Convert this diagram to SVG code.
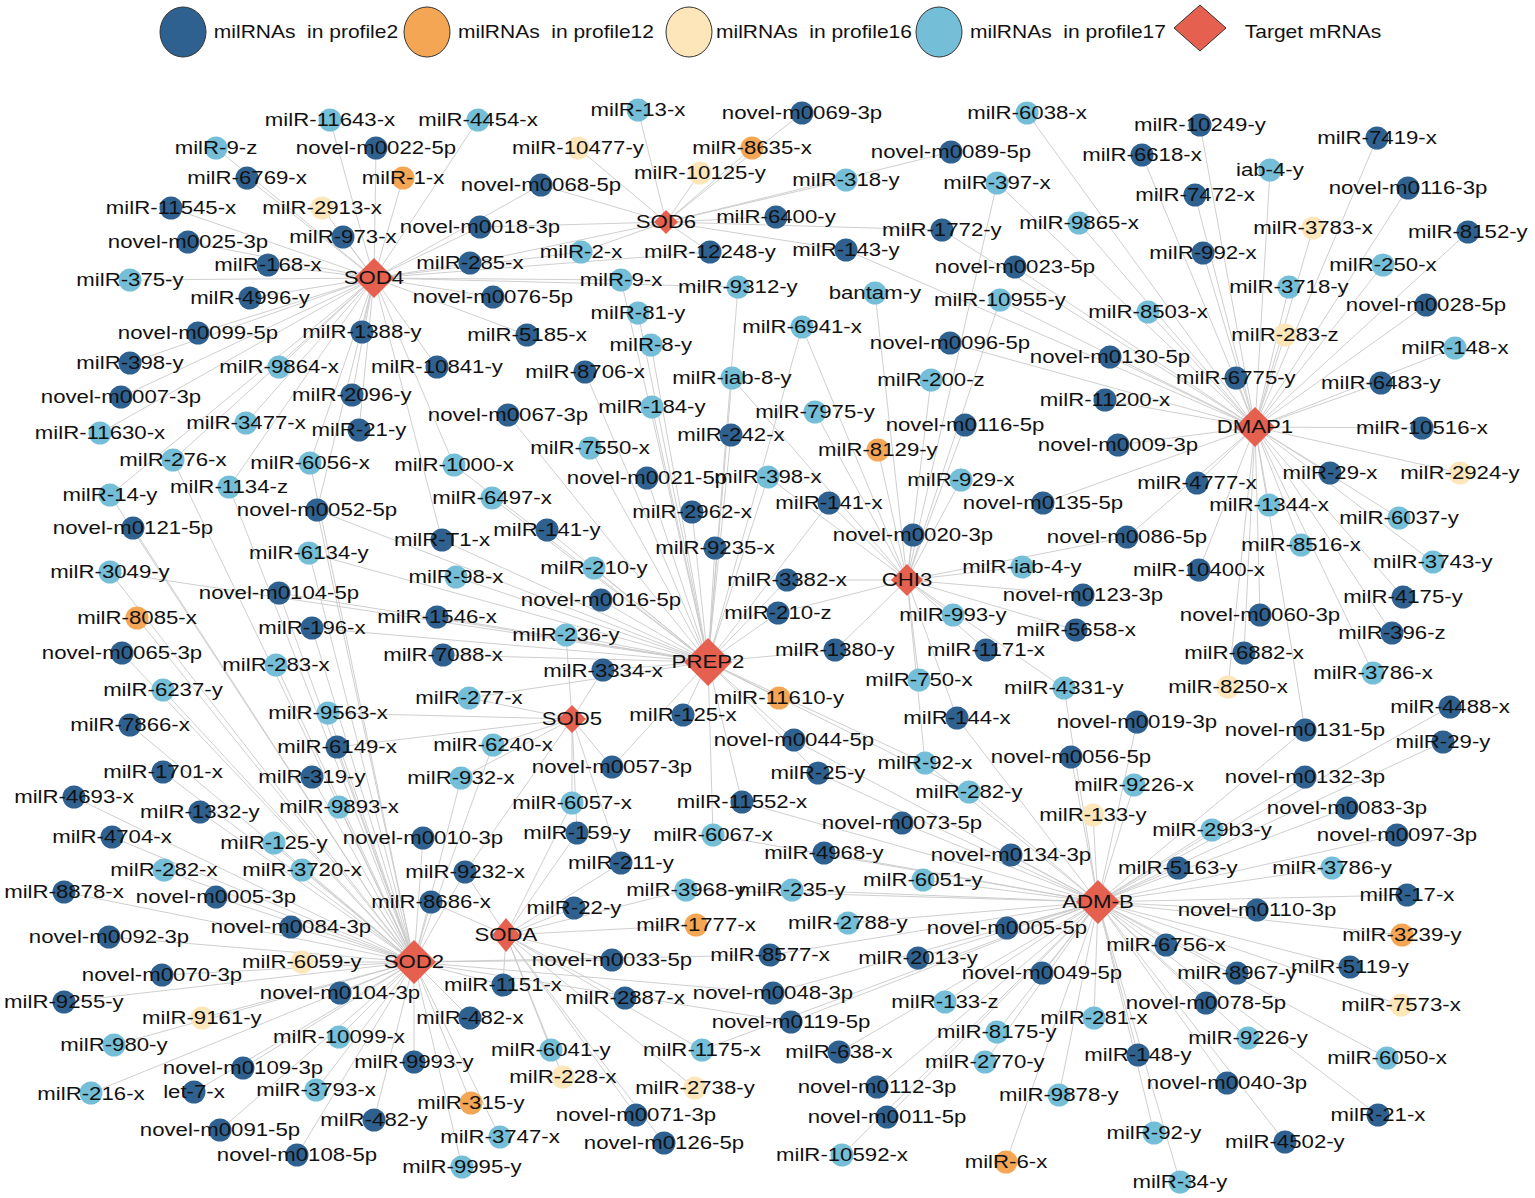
<svg xmlns="http://www.w3.org/2000/svg" width="1535" height="1198" viewBox="0 0 1535 1198">
<style>
text{font-family:"Liberation Sans",Arial,sans-serif;font-size:18.5px;fill:#111;text-anchor:middle;transform-box:fill-box;transform-origin:center;transform:scaleX(1.2)}
.lg{white-space:pre;font-size:17.5px}
.d{fill:#2f6190}.o{fill:#f5a654}.y{fill:#fde6b9}.l{fill:#75bed8}.t{fill:#e5604f}
.lgs{stroke:#333;stroke-width:1}
#edges line{stroke:#c9c9c9;stroke-width:0.9}
</style>
<rect width="1535" height="1198" fill="#fff"/>
<g id="legend">
<ellipse class="d lgs" cx="183" cy="32" rx="23" ry="25"/><text class="lg" x="306" y="38">milRNAs  in profile2</text>
<ellipse class="o lgs" cx="427" cy="32" rx="23" ry="25"/><text class="lg" x="556" y="38">milRNAs  in profile12</text>
<ellipse class="y lgs" cx="689" cy="32" rx="23" ry="25"/><text class="lg" x="814" y="38">milRNAs  in profile16</text>
<ellipse class="l lgs" cx="939" cy="32" rx="23" ry="25"/><text class="lg" x="1068" y="38">milRNAs  in profile17</text>
<polygon class="t lgs" points="1200,5 1226,28 1200,51 1174,28"/><text class="lg" x="1313" y="38">Target mRNAs</text>
</g>
<g id="edges">
<line x1="330" y1="120" x2="374" y2="278"/><line x1="478" y1="120" x2="374" y2="278"/><line x1="216" y1="148" x2="374" y2="278"/><line x1="376" y1="148" x2="374" y2="278"/><line x1="247" y1="178" x2="374" y2="278"/><line x1="403" y1="178" x2="374" y2="278"/><line x1="171" y1="208" x2="374" y2="278"/><line x1="322" y1="208" x2="374" y2="278"/><line x1="188" y1="242" x2="374" y2="278"/><line x1="343" y1="237" x2="374" y2="278"/><line x1="130" y1="280" x2="374" y2="278"/><line x1="268" y1="265" x2="374" y2="278"/><line x1="470" y1="263" x2="374" y2="278"/><line x1="250" y1="298" x2="374" y2="278"/><line x1="198" y1="333" x2="374" y2="278"/><line x1="362" y1="332" x2="374" y2="278"/><line x1="130" y1="363" x2="374" y2="278"/><line x1="279" y1="367" x2="374" y2="278"/><line x1="437" y1="367" x2="374" y2="278"/><line x1="121" y1="397" x2="374" y2="278"/><line x1="352" y1="395" x2="374" y2="278"/><line x1="100" y1="433" x2="374" y2="278"/><line x1="246" y1="423" x2="374" y2="278"/><line x1="359" y1="430" x2="374" y2="278"/><line x1="480" y1="227" x2="374" y2="278"/><line x1="493" y1="297" x2="374" y2="278"/><line x1="527" y1="335" x2="374" y2="278"/><line x1="173" y1="460" x2="374" y2="278"/><line x1="110" y1="495" x2="374" y2="278"/><line x1="581" y1="252" x2="374" y2="278"/><line x1="621" y1="280" x2="374" y2="278"/><line x1="710" y1="252" x2="374" y2="278"/><line x1="738" y1="287" x2="374" y2="278"/><line x1="310" y1="463" x2="374" y2="278"/><line x1="229" y1="487" x2="374" y2="278"/><line x1="317" y1="510" x2="374" y2="278"/><line x1="454" y1="465" x2="374" y2="278"/><line x1="442" y1="540" x2="374" y2="278"/><line x1="541" y1="185" x2="374" y2="278"/>
<line x1="638" y1="110" x2="666" y2="222"/><line x1="802" y1="113" x2="666" y2="222"/><line x1="578" y1="148" x2="666" y2="222"/><line x1="752" y1="148" x2="666" y2="222"/><line x1="541" y1="185" x2="666" y2="222"/><line x1="700" y1="173" x2="666" y2="222"/><line x1="846" y1="180" x2="666" y2="222"/><line x1="776" y1="217" x2="666" y2="222"/><line x1="951" y1="152" x2="666" y2="222"/><line x1="581" y1="252" x2="666" y2="222"/><line x1="710" y1="252" x2="666" y2="222"/><line x1="846" y1="250" x2="666" y2="222"/><line x1="942" y1="230" x2="666" y2="222"/><line x1="480" y1="227" x2="666" y2="222"/><line x1="470" y1="263" x2="666" y2="222"/>
<line x1="1027" y1="113" x2="1255" y2="427"/><line x1="1200" y1="125" x2="1255" y2="427"/><line x1="1377" y1="138" x2="1255" y2="427"/><line x1="1142" y1="155" x2="1255" y2="427"/><line x1="1270" y1="170" x2="1255" y2="427"/><line x1="1195" y1="195" x2="1255" y2="427"/><line x1="1408" y1="188" x2="1255" y2="427"/><line x1="1079" y1="223" x2="1255" y2="427"/><line x1="1313" y1="228" x2="1255" y2="427"/><line x1="1468" y1="232" x2="1255" y2="427"/><line x1="1015" y1="267" x2="1255" y2="427"/><line x1="1203" y1="253" x2="1255" y2="427"/><line x1="1383" y1="265" x2="1255" y2="427"/><line x1="1000" y1="300" x2="1255" y2="427"/><line x1="1289" y1="287" x2="1255" y2="427"/><line x1="1148" y1="312" x2="1255" y2="427"/><line x1="1426" y1="305" x2="1255" y2="427"/><line x1="950" y1="343" x2="1255" y2="427"/><line x1="1110" y1="357" x2="1255" y2="427"/><line x1="1285" y1="335" x2="1255" y2="427"/><line x1="1455" y1="348" x2="1255" y2="427"/><line x1="1236" y1="378" x2="1255" y2="427"/><line x1="1381" y1="383" x2="1255" y2="427"/><line x1="1105" y1="400" x2="1255" y2="427"/><line x1="1422" y1="428" x2="1255" y2="427"/><line x1="1118" y1="445" x2="1255" y2="427"/><line x1="1197" y1="483" x2="1255" y2="427"/><line x1="1330" y1="473" x2="1255" y2="427"/><line x1="1460" y1="473" x2="1255" y2="427"/><line x1="1043" y1="503" x2="1255" y2="427"/><line x1="1269" y1="505" x2="1255" y2="427"/><line x1="1399" y1="518" x2="1255" y2="427"/><line x1="1127" y1="537" x2="1255" y2="427"/><line x1="1301" y1="545" x2="1255" y2="427"/><line x1="1433" y1="562" x2="1255" y2="427"/><line x1="1199" y1="570" x2="1255" y2="427"/><line x1="1403" y1="597" x2="1255" y2="427"/><line x1="1260" y1="615" x2="1255" y2="427"/><line x1="1392" y1="633" x2="1255" y2="427"/><line x1="1244" y1="653" x2="1255" y2="427"/><line x1="1228" y1="687" x2="1255" y2="427"/><line x1="1373" y1="673" x2="1255" y2="427"/><line x1="1305" y1="730" x2="1255" y2="427"/><line x1="997" y1="183" x2="1255" y2="427"/><line x1="942" y1="230" x2="1255" y2="427"/><line x1="846" y1="250" x2="1255" y2="427"/>
<line x1="878" y1="450" x2="907" y2="580"/><line x1="961" y1="480" x2="907" y2="580"/><line x1="829" y1="503" x2="907" y2="580"/><line x1="913" y1="535" x2="907" y2="580"/><line x1="787" y1="580" x2="907" y2="580"/><line x1="1022" y1="567" x2="907" y2="580"/><line x1="778" y1="613" x2="907" y2="580"/><line x1="953" y1="615" x2="907" y2="580"/><line x1="1083" y1="595" x2="907" y2="580"/><line x1="1076" y1="630" x2="907" y2="580"/><line x1="835" y1="650" x2="907" y2="580"/><line x1="986" y1="650" x2="907" y2="580"/><line x1="919" y1="680" x2="907" y2="580"/><line x1="1064" y1="688" x2="907" y2="580"/><line x1="957" y1="718" x2="907" y2="580"/><line x1="931" y1="380" x2="907" y2="580"/><line x1="965" y1="425" x2="907" y2="580"/><line x1="875" y1="293" x2="907" y2="580"/><line x1="815" y1="412" x2="907" y2="580"/><line x1="768" y1="477" x2="907" y2="580"/><line x1="802" y1="327" x2="907" y2="580"/><line x1="997" y1="183" x2="907" y2="580"/><line x1="1000" y1="300" x2="907" y2="580"/><line x1="732" y1="378" x2="907" y2="580"/><line x1="925" y1="763" x2="907" y2="580"/><line x1="1127" y1="537" x2="907" y2="580"/>
<line x1="638" y1="313" x2="708" y2="662"/><line x1="651" y1="345" x2="708" y2="662"/><line x1="585" y1="372" x2="708" y2="662"/><line x1="732" y1="378" x2="708" y2="662"/><line x1="652" y1="407" x2="708" y2="662"/><line x1="731" y1="435" x2="708" y2="662"/><line x1="590" y1="448" x2="708" y2="662"/><line x1="647" y1="478" x2="708" y2="662"/><line x1="692" y1="512" x2="708" y2="662"/><line x1="715" y1="548" x2="708" y2="662"/><line x1="594" y1="568" x2="708" y2="662"/><line x1="601" y1="600" x2="708" y2="662"/><line x1="566" y1="635" x2="708" y2="662"/><line x1="603" y1="670" x2="708" y2="662"/><line x1="547" y1="530" x2="708" y2="662"/><line x1="492" y1="498" x2="708" y2="662"/><line x1="454" y1="465" x2="708" y2="662"/><line x1="442" y1="540" x2="708" y2="662"/><line x1="456" y1="577" x2="708" y2="662"/><line x1="437" y1="617" x2="708" y2="662"/><line x1="443" y1="655" x2="708" y2="662"/><line x1="469" y1="698" x2="708" y2="662"/><line x1="779" y1="698" x2="708" y2="662"/><line x1="683" y1="715" x2="708" y2="662"/><line x1="794" y1="740" x2="708" y2="662"/><line x1="818" y1="773" x2="708" y2="662"/><line x1="742" y1="802" x2="708" y2="662"/><line x1="713" y1="835" x2="708" y2="662"/><line x1="612" y1="767" x2="708" y2="662"/><line x1="925" y1="763" x2="708" y2="662"/><line x1="969" y1="792" x2="708" y2="662"/><line x1="835" y1="650" x2="708" y2="662"/><line x1="787" y1="580" x2="708" y2="662"/><line x1="778" y1="613" x2="708" y2="662"/><line x1="508" y1="415" x2="708" y2="662"/><line x1="317" y1="510" x2="708" y2="662"/><line x1="309" y1="553" x2="708" y2="662"/><line x1="110" y1="572" x2="708" y2="662"/><line x1="279" y1="593" x2="708" y2="662"/><line x1="312" y1="628" x2="708" y2="662"/><line x1="738" y1="287" x2="708" y2="662"/><line x1="802" y1="327" x2="708" y2="662"/><line x1="768" y1="477" x2="708" y2="662"/><line x1="829" y1="503" x2="708" y2="662"/><line x1="621" y1="280" x2="708" y2="662"/>
<line x1="493" y1="745" x2="572" y2="719"/><line x1="461" y1="778" x2="572" y2="719"/><line x1="572" y1="803" x2="572" y2="719"/><line x1="577" y1="833" x2="572" y2="719"/><line x1="603" y1="670" x2="572" y2="719"/><line x1="612" y1="767" x2="572" y2="719"/><line x1="469" y1="698" x2="572" y2="719"/><line x1="328" y1="713" x2="572" y2="719"/><line x1="337" y1="747" x2="572" y2="719"/><line x1="621" y1="863" x2="572" y2="719"/><line x1="566" y1="635" x2="572" y2="719"/><line x1="465" y1="872" x2="572" y2="719"/>
<line x1="133" y1="528" x2="414" y2="962"/><line x1="110" y1="572" x2="414" y2="962"/><line x1="137" y1="618" x2="414" y2="962"/><line x1="122" y1="653" x2="414" y2="962"/><line x1="276" y1="665" x2="414" y2="962"/><line x1="163" y1="690" x2="414" y2="962"/><line x1="328" y1="713" x2="414" y2="962"/><line x1="130" y1="725" x2="414" y2="962"/><line x1="337" y1="747" x2="414" y2="962"/><line x1="163" y1="772" x2="414" y2="962"/><line x1="312" y1="777" x2="414" y2="962"/><line x1="74" y1="797" x2="414" y2="962"/><line x1="200" y1="812" x2="414" y2="962"/><line x1="339" y1="807" x2="414" y2="962"/><line x1="112" y1="837" x2="414" y2="962"/><line x1="274" y1="843" x2="414" y2="962"/><line x1="423" y1="838" x2="414" y2="962"/><line x1="164" y1="870" x2="414" y2="962"/><line x1="302" y1="870" x2="414" y2="962"/><line x1="465" y1="872" x2="414" y2="962"/><line x1="64" y1="892" x2="414" y2="962"/><line x1="216" y1="897" x2="414" y2="962"/><line x1="431" y1="902" x2="414" y2="962"/><line x1="291" y1="927" x2="414" y2="962"/><line x1="109" y1="937" x2="414" y2="962"/><line x1="302" y1="962" x2="414" y2="962"/><line x1="162" y1="975" x2="414" y2="962"/><line x1="64" y1="1002" x2="414" y2="962"/><line x1="340" y1="993" x2="414" y2="962"/><line x1="503" y1="985" x2="414" y2="962"/><line x1="202" y1="1018" x2="414" y2="962"/><line x1="470" y1="1018" x2="414" y2="962"/><line x1="114" y1="1045" x2="414" y2="962"/><line x1="339" y1="1037" x2="414" y2="962"/><line x1="243" y1="1068" x2="414" y2="962"/><line x1="414" y1="1062" x2="414" y2="962"/><line x1="91" y1="1093" x2="414" y2="962"/><line x1="194" y1="1092" x2="414" y2="962"/><line x1="316" y1="1090" x2="414" y2="962"/><line x1="471" y1="1103" x2="414" y2="962"/><line x1="374" y1="1120" x2="414" y2="962"/><line x1="220" y1="1130" x2="414" y2="962"/><line x1="500" y1="1137" x2="414" y2="962"/><line x1="297" y1="1155" x2="414" y2="962"/><line x1="462" y1="1167" x2="414" y2="962"/><line x1="279" y1="593" x2="414" y2="962"/><line x1="312" y1="628" x2="414" y2="962"/><line x1="110" y1="495" x2="414" y2="962"/><line x1="173" y1="460" x2="414" y2="962"/><line x1="229" y1="487" x2="414" y2="962"/><line x1="310" y1="463" x2="414" y2="962"/><line x1="317" y1="510" x2="414" y2="962"/><line x1="309" y1="553" x2="414" y2="962"/><line x1="612" y1="960" x2="414" y2="962"/><line x1="770" y1="955" x2="414" y2="962"/><line x1="773" y1="993" x2="414" y2="962"/><line x1="791" y1="1022" x2="414" y2="962"/><line x1="461" y1="778" x2="414" y2="962"/><line x1="493" y1="745" x2="414" y2="962"/>
<line x1="577" y1="833" x2="506" y2="935"/><line x1="621" y1="863" x2="506" y2="935"/><line x1="686" y1="890" x2="506" y2="935"/><line x1="574" y1="908" x2="506" y2="935"/><line x1="696" y1="925" x2="506" y2="935"/><line x1="612" y1="960" x2="506" y2="935"/><line x1="503" y1="985" x2="506" y2="935"/><line x1="625" y1="998" x2="506" y2="935"/><line x1="551" y1="1050" x2="506" y2="935"/><line x1="702" y1="1050" x2="506" y2="935"/><line x1="563" y1="1077" x2="506" y2="935"/><line x1="695" y1="1088" x2="506" y2="935"/><line x1="636" y1="1115" x2="506" y2="935"/><line x1="664" y1="1143" x2="506" y2="935"/><line x1="431" y1="902" x2="506" y2="935"/><line x1="465" y1="872" x2="506" y2="935"/><line x1="572" y1="803" x2="506" y2="935"/>
<line x1="1137" y1="722" x2="1098" y2="902"/><line x1="1071" y1="757" x2="1098" y2="902"/><line x1="1134" y1="785" x2="1098" y2="902"/><line x1="1305" y1="777" x2="1098" y2="902"/><line x1="969" y1="792" x2="1098" y2="902"/><line x1="1093" y1="815" x2="1098" y2="902"/><line x1="1347" y1="808" x2="1098" y2="902"/><line x1="902" y1="823" x2="1098" y2="902"/><line x1="1212" y1="830" x2="1098" y2="902"/><line x1="1397" y1="835" x2="1098" y2="902"/><line x1="824" y1="853" x2="1098" y2="902"/><line x1="1011" y1="855" x2="1098" y2="902"/><line x1="1178" y1="868" x2="1098" y2="902"/><line x1="1332" y1="868" x2="1098" y2="902"/><line x1="792" y1="890" x2="1098" y2="902"/><line x1="923" y1="880" x2="1098" y2="902"/><line x1="1407" y1="895" x2="1098" y2="902"/><line x1="848" y1="923" x2="1098" y2="902"/><line x1="1007" y1="928" x2="1098" y2="902"/><line x1="1257" y1="910" x2="1098" y2="902"/><line x1="1402" y1="935" x2="1098" y2="902"/><line x1="770" y1="955" x2="1098" y2="902"/><line x1="918" y1="958" x2="1098" y2="902"/><line x1="1166" y1="945" x2="1098" y2="902"/><line x1="1042" y1="973" x2="1098" y2="902"/><line x1="1237" y1="973" x2="1098" y2="902"/><line x1="1350" y1="967" x2="1098" y2="902"/><line x1="773" y1="993" x2="1098" y2="902"/><line x1="945" y1="1002" x2="1098" y2="902"/><line x1="1206" y1="1003" x2="1098" y2="902"/><line x1="1401" y1="1005" x2="1098" y2="902"/><line x1="791" y1="1022" x2="1098" y2="902"/><line x1="997" y1="1032" x2="1098" y2="902"/><line x1="1094" y1="1018" x2="1098" y2="902"/><line x1="1248" y1="1038" x2="1098" y2="902"/><line x1="839" y1="1052" x2="1098" y2="902"/><line x1="985" y1="1062" x2="1098" y2="902"/><line x1="1138" y1="1055" x2="1098" y2="902"/><line x1="1387" y1="1058" x2="1098" y2="902"/><line x1="877" y1="1087" x2="1098" y2="902"/><line x1="1227" y1="1083" x2="1098" y2="902"/><line x1="1059" y1="1095" x2="1098" y2="902"/><line x1="887" y1="1117" x2="1098" y2="902"/><line x1="1378" y1="1115" x2="1098" y2="902"/><line x1="1154" y1="1133" x2="1098" y2="902"/><line x1="1285" y1="1142" x2="1098" y2="902"/><line x1="842" y1="1155" x2="1098" y2="902"/><line x1="1006" y1="1162" x2="1098" y2="902"/><line x1="1180" y1="1182" x2="1098" y2="902"/><line x1="1450" y1="707" x2="1098" y2="902"/><line x1="1443" y1="742" x2="1098" y2="902"/><line x1="1305" y1="730" x2="1098" y2="902"/><line x1="1064" y1="688" x2="1098" y2="902"/><line x1="957" y1="718" x2="1098" y2="902"/><line x1="818" y1="773" x2="1098" y2="902"/><line x1="742" y1="802" x2="1098" y2="902"/><line x1="794" y1="740" x2="1098" y2="902"/><line x1="686" y1="890" x2="1098" y2="902"/><line x1="702" y1="1050" x2="1098" y2="902"/><line x1="925" y1="763" x2="1098" y2="902"/><line x1="713" y1="835" x2="1098" y2="902"/>
</g>
<g id="mirnas">
<g id="n_milR-11643-x"><circle class="l" cx="330" cy="120" r="11.5"/><text x="330" y="126.5">milR-11643-x</text></g>
<g id="n_milR-4454-x"><circle class="l" cx="478" cy="120" r="11.5"/><text x="478" y="126.5">milR-4454-x</text></g>
<g id="n_milR-13-x"><circle class="l" cx="638" cy="110" r="11.5"/><text x="638" y="116.5">milR-13-x</text></g>
<g id="n_novel-m0069-3p"><circle class="d" cx="802" cy="113" r="11.5"/><text x="802" y="119.5">novel-m0069-3p</text></g>
<g id="n_milR-6038-x"><circle class="l" cx="1027" cy="113" r="11.5"/><text x="1027" y="119.5">milR-6038-x</text></g>
<g id="n_milR-10249-y"><circle class="d" cx="1200" cy="125" r="11.5"/><text x="1200" y="131.5">milR-10249-y</text></g>
<g id="n_milR-7419-x"><circle class="d" cx="1377" cy="138" r="11.5"/><text x="1377" y="144.5">milR-7419-x</text></g>
<g id="n_milR-9-z"><circle class="l" cx="216" cy="148" r="11.5"/><text x="216" y="154.5">milR-9-z</text></g>
<g id="n_novel-m0022-5p"><circle class="d" cx="376" cy="148" r="11.5"/><text x="376" y="154.5">novel-m0022-5p</text></g>
<g id="n_milR-10477-y"><circle class="y" cx="578" cy="148" r="11.5"/><text x="578" y="154.5">milR-10477-y</text></g>
<g id="n_milR-8635-x"><circle class="o" cx="752" cy="148" r="11.5"/><text x="752" y="154.5">milR-8635-x</text></g>
<g id="n_novel-m0089-5p"><circle class="d" cx="951" cy="152" r="11.5"/><text x="951" y="158.5">novel-m0089-5p</text></g>
<g id="n_milR-6618-x"><circle class="d" cx="1142" cy="155" r="11.5"/><text x="1142" y="161.5">milR-6618-x</text></g>
<g id="n_milR-6769-x"><circle class="d" cx="247" cy="178" r="11.5"/><text x="247" y="184.5">milR-6769-x</text></g>
<g id="n_milR-1-x"><circle class="o" cx="403" cy="178" r="11.5"/><text x="403" y="184.5">milR-1-x</text></g>
<g id="n_novel-m0068-5p"><circle class="d" cx="541" cy="185" r="11.5"/><text x="541" y="191.5">novel-m0068-5p</text></g>
<g id="n_milR-10125-y"><circle class="y" cx="700" cy="173" r="11.5"/><text x="700" y="179.5">milR-10125-y</text></g>
<g id="n_milR-318-y"><circle class="l" cx="846" cy="180" r="11.5"/><text x="846" y="186.5">milR-318-y</text></g>
<g id="n_milR-397-x"><circle class="l" cx="997" cy="183" r="11.5"/><text x="997" y="189.5">milR-397-x</text></g>
<g id="n_iab-4-y"><circle class="l" cx="1270" cy="170" r="11.5"/><text x="1270" y="176.5">iab-4-y</text></g>
<g id="n_milR-7472-x"><circle class="d" cx="1195" cy="195" r="11.5"/><text x="1195" y="201.5">milR-7472-x</text></g>
<g id="n_novel-m0116-3p"><circle class="d" cx="1408" cy="188" r="11.5"/><text x="1408" y="194.5">novel-m0116-3p</text></g>
<g id="n_milR-11545-x"><circle class="d" cx="171" cy="208" r="11.5"/><text x="171" y="214.5">milR-11545-x</text></g>
<g id="n_milR-2913-x"><circle class="y" cx="322" cy="208" r="11.5"/><text x="322" y="214.5">milR-2913-x</text></g>
<g id="n_novel-m0018-3p"><circle class="d" cx="480" cy="227" r="11.5"/><text x="480" y="233.5">novel-m0018-3p</text></g>
<g id="n_milR-6400-y"><circle class="d" cx="776" cy="217" r="11.5"/><text x="776" y="223.5">milR-6400-y</text></g>
<g id="n_milR-1772-y"><circle class="d" cx="942" cy="230" r="11.5"/><text x="942" y="236.5">milR-1772-y</text></g>
<g id="n_milR-9865-x"><circle class="l" cx="1079" cy="223" r="11.5"/><text x="1079" y="229.5">milR-9865-x</text></g>
<g id="n_milR-3783-x"><circle class="y" cx="1313" cy="228" r="11.5"/><text x="1313" y="234.5">milR-3783-x</text></g>
<g id="n_milR-8152-y"><circle class="d" cx="1468" cy="232" r="11.5"/><text x="1468" y="238.5">milR-8152-y</text></g>
<g id="n_novel-m0025-3p"><circle class="d" cx="188" cy="242" r="11.5"/><text x="188" y="248.5">novel-m0025-3p</text></g>
<g id="n_milR-973-x"><circle class="d" cx="343" cy="237" r="11.5"/><text x="343" y="243.5">milR-973-x</text></g>
<g id="n_milR-2-x"><circle class="l" cx="581" cy="252" r="11.5"/><text x="581" y="258.5">milR-2-x</text></g>
<g id="n_milR-12248-y"><circle class="d" cx="710" cy="252" r="11.5"/><text x="710" y="258.5">milR-12248-y</text></g>
<g id="n_milR-143-y"><circle class="d" cx="846" cy="250" r="11.5"/><text x="846" y="256.5">milR-143-y</text></g>
<g id="n_novel-m0023-5p"><circle class="d" cx="1015" cy="267" r="11.5"/><text x="1015" y="273.5">novel-m0023-5p</text></g>
<g id="n_milR-992-x"><circle class="d" cx="1203" cy="253" r="11.5"/><text x="1203" y="259.5">milR-992-x</text></g>
<g id="n_milR-250-x"><circle class="l" cx="1383" cy="265" r="11.5"/><text x="1383" y="271.5">milR-250-x</text></g>
<g id="n_milR-375-y"><circle class="l" cx="130" cy="280" r="11.5"/><text x="130" y="286.5">milR-375-y</text></g>
<g id="n_milR-168-x"><circle class="d" cx="268" cy="265" r="11.5"/><text x="268" y="271.5">milR-168-x</text></g>
<g id="n_milR-285-x"><circle class="d" cx="470" cy="263" r="11.5"/><text x="470" y="269.5">milR-285-x</text></g>
<g id="n_milR-9-x"><circle class="l" cx="621" cy="280" r="11.5"/><text x="621" y="286.5">milR-9-x</text></g>
<g id="n_milR-9312-y"><circle class="l" cx="738" cy="287" r="11.5"/><text x="738" y="293.5">milR-9312-y</text></g>
<g id="n_bantam-y"><circle class="l" cx="875" cy="293" r="11.5"/><text x="875" y="299.5">bantam-y</text></g>
<g id="n_milR-10955-y"><circle class="l" cx="1000" cy="300" r="11.5"/><text x="1000" y="306.5">milR-10955-y</text></g>
<g id="n_milR-3718-y"><circle class="l" cx="1289" cy="287" r="11.5"/><text x="1289" y="293.5">milR-3718-y</text></g>
<g id="n_milR-4996-y"><circle class="d" cx="250" cy="298" r="11.5"/><text x="250" y="304.5">milR-4996-y</text></g>
<g id="n_novel-m0076-5p"><circle class="d" cx="493" cy="297" r="11.5"/><text x="493" y="303.5">novel-m0076-5p</text></g>
<g id="n_milR-81-y"><circle class="l" cx="638" cy="313" r="11.5"/><text x="638" y="319.5">milR-81-y</text></g>
<g id="n_milR-8503-x"><circle class="l" cx="1148" cy="312" r="11.5"/><text x="1148" y="318.5">milR-8503-x</text></g>
<g id="n_novel-m0028-5p"><circle class="d" cx="1426" cy="305" r="11.5"/><text x="1426" y="311.5">novel-m0028-5p</text></g>
<g id="n_novel-m0099-5p"><circle class="d" cx="198" cy="333" r="11.5"/><text x="198" y="339.5">novel-m0099-5p</text></g>
<g id="n_milR-1388-y"><circle class="d" cx="362" cy="332" r="11.5"/><text x="362" y="338.5">milR-1388-y</text></g>
<g id="n_milR-5185-x"><circle class="d" cx="527" cy="335" r="11.5"/><text x="527" y="341.5">milR-5185-x</text></g>
<g id="n_milR-6941-x"><circle class="l" cx="802" cy="327" r="11.5"/><text x="802" y="333.5">milR-6941-x</text></g>
<g id="n_novel-m0096-5p"><circle class="d" cx="950" cy="343" r="11.5"/><text x="950" y="349.5">novel-m0096-5p</text></g>
<g id="n_novel-m0130-5p"><circle class="d" cx="1110" cy="357" r="11.5"/><text x="1110" y="363.5">novel-m0130-5p</text></g>
<g id="n_milR-283-z"><circle class="y" cx="1285" cy="335" r="11.5"/><text x="1285" y="341.5">milR-283-z</text></g>
<g id="n_milR-148-x"><circle class="l" cx="1455" cy="348" r="11.5"/><text x="1455" y="354.5">milR-148-x</text></g>
<g id="n_milR-398-y"><circle class="d" cx="130" cy="363" r="11.5"/><text x="130" y="369.5">milR-398-y</text></g>
<g id="n_milR-9864-x"><circle class="l" cx="279" cy="367" r="11.5"/><text x="279" y="373.5">milR-9864-x</text></g>
<g id="n_milR-10841-y"><circle class="d" cx="437" cy="367" r="11.5"/><text x="437" y="373.5">milR-10841-y</text></g>
<g id="n_milR-8-y"><circle class="l" cx="651" cy="345" r="11.5"/><text x="651" y="351.5">milR-8-y</text></g>
<g id="n_milR-8706-x"><circle class="d" cx="585" cy="372" r="11.5"/><text x="585" y="378.5">milR-8706-x</text></g>
<g id="n_milR-iab-8-y"><circle class="l" cx="732" cy="378" r="11.5"/><text x="732" y="384.5">milR-iab-8-y</text></g>
<g id="n_milR-200-z"><circle class="l" cx="931" cy="380" r="11.5"/><text x="931" y="386.5">milR-200-z</text></g>
<g id="n_milR-6775-y"><circle class="d" cx="1236" cy="378" r="11.5"/><text x="1236" y="384.5">milR-6775-y</text></g>
<g id="n_milR-6483-y"><circle class="d" cx="1381" cy="383" r="11.5"/><text x="1381" y="389.5">milR-6483-y</text></g>
<g id="n_novel-m0007-3p"><circle class="d" cx="121" cy="397" r="11.5"/><text x="121" y="403.5">novel-m0007-3p</text></g>
<g id="n_milR-2096-y"><circle class="d" cx="352" cy="395" r="11.5"/><text x="352" y="401.5">milR-2096-y</text></g>
<g id="n_novel-m0067-3p"><circle class="d" cx="508" cy="415" r="11.5"/><text x="508" y="421.5">novel-m0067-3p</text></g>
<g id="n_milR-184-y"><circle class="l" cx="652" cy="407" r="11.5"/><text x="652" y="413.5">milR-184-y</text></g>
<g id="n_milR-7975-y"><circle class="l" cx="815" cy="412" r="11.5"/><text x="815" y="418.5">milR-7975-y</text></g>
<g id="n_milR-11200-x"><circle class="d" cx="1105" cy="400" r="11.5"/><text x="1105" y="406.5">milR-11200-x</text></g>
<g id="n_milR-10516-x"><circle class="d" cx="1422" cy="428" r="11.5"/><text x="1422" y="434.5">milR-10516-x</text></g>
<g id="n_milR-11630-x"><circle class="l" cx="100" cy="433" r="11.5"/><text x="100" y="439.5">milR-11630-x</text></g>
<g id="n_milR-3477-x"><circle class="l" cx="246" cy="423" r="11.5"/><text x="246" y="429.5">milR-3477-x</text></g>
<g id="n_milR-21-y"><circle class="d" cx="359" cy="430" r="11.5"/><text x="359" y="436.5">milR-21-y</text></g>
<g id="n_milR-242-x"><circle class="d" cx="731" cy="435" r="11.5"/><text x="731" y="441.5">milR-242-x</text></g>
<g id="n_milR-7550-x"><circle class="l" cx="590" cy="448" r="11.5"/><text x="590" y="454.5">milR-7550-x</text></g>
<g id="n_novel-m0116-5p"><circle class="d" cx="965" cy="425" r="11.5"/><text x="965" y="431.5">novel-m0116-5p</text></g>
<g id="n_novel-m0009-3p"><circle class="d" cx="1118" cy="445" r="11.5"/><text x="1118" y="451.5">novel-m0009-3p</text></g>
<g id="n_milR-8129-y"><circle class="o" cx="878" cy="450" r="11.5"/><text x="878" y="456.5">milR-8129-y</text></g>
<g id="n_milR-276-x"><circle class="l" cx="173" cy="460" r="11.5"/><text x="173" y="466.5">milR-276-x</text></g>
<g id="n_milR-6056-x"><circle class="l" cx="310" cy="463" r="11.5"/><text x="310" y="469.5">milR-6056-x</text></g>
<g id="n_milR-1000-x"><circle class="l" cx="454" cy="465" r="11.5"/><text x="454" y="471.5">milR-1000-x</text></g>
<g id="n_novel-m0021-5p"><circle class="d" cx="647" cy="478" r="11.5"/><text x="647" y="484.5">novel-m0021-5p</text></g>
<g id="n_milR-398-x"><circle class="l" cx="768" cy="477" r="11.5"/><text x="768" y="483.5">milR-398-x</text></g>
<g id="n_milR-929-x"><circle class="l" cx="961" cy="480" r="11.5"/><text x="961" y="486.5">milR-929-x</text></g>
<g id="n_milR-4777-x"><circle class="d" cx="1197" cy="483" r="11.5"/><text x="1197" y="489.5">milR-4777-x</text></g>
<g id="n_milR-29-x"><circle class="d" cx="1330" cy="473" r="11.5"/><text x="1330" y="479.5">milR-29-x</text></g>
<g id="n_milR-2924-y"><circle class="y" cx="1460" cy="473" r="11.5"/><text x="1460" y="479.5">milR-2924-y</text></g>
<g id="n_milR-14-y"><circle class="l" cx="110" cy="495" r="11.5"/><text x="110" y="501.5">milR-14-y</text></g>
<g id="n_milR-1134-z"><circle class="l" cx="229" cy="487" r="11.5"/><text x="229" y="493.5">milR-1134-z</text></g>
<g id="n_milR-6497-x"><circle class="l" cx="492" cy="498" r="11.5"/><text x="492" y="504.5">milR-6497-x</text></g>
<g id="n_milR-141-x"><circle class="d" cx="829" cy="503" r="11.5"/><text x="829" y="509.5">milR-141-x</text></g>
<g id="n_novel-m0135-5p"><circle class="d" cx="1043" cy="503" r="11.5"/><text x="1043" y="509.5">novel-m0135-5p</text></g>
<g id="n_milR-1344-x"><circle class="l" cx="1269" cy="505" r="11.5"/><text x="1269" y="511.5">milR-1344-x</text></g>
<g id="n_milR-6037-y"><circle class="l" cx="1399" cy="518" r="11.5"/><text x="1399" y="524.5">milR-6037-y</text></g>
<g id="n_novel-m0121-5p"><circle class="d" cx="133" cy="528" r="11.5"/><text x="133" y="534.5">novel-m0121-5p</text></g>
<g id="n_novel-m0052-5p"><circle class="d" cx="317" cy="510" r="11.5"/><text x="317" y="516.5">novel-m0052-5p</text></g>
<g id="n_milR-2962-x"><circle class="d" cx="692" cy="512" r="11.5"/><text x="692" y="518.5">milR-2962-x</text></g>
<g id="n_novel-m0020-3p"><circle class="d" cx="913" cy="535" r="11.5"/><text x="913" y="541.5">novel-m0020-3p</text></g>
<g id="n_novel-m0086-5p"><circle class="d" cx="1127" cy="537" r="11.5"/><text x="1127" y="543.5">novel-m0086-5p</text></g>
<g id="n_milR-8516-x"><circle class="l" cx="1301" cy="545" r="11.5"/><text x="1301" y="551.5">milR-8516-x</text></g>
<g id="n_milR-3743-y"><circle class="l" cx="1433" cy="562" r="11.5"/><text x="1433" y="568.5">milR-3743-y</text></g>
<g id="n_milR-T1-x"><circle class="d" cx="442" cy="540" r="11.5"/><text x="442" y="546.5">milR-T1-x</text></g>
<g id="n_milR-141-y"><circle class="d" cx="547" cy="530" r="11.5"/><text x="547" y="536.5">milR-141-y</text></g>
<g id="n_milR-9235-x"><circle class="d" cx="715" cy="548" r="11.5"/><text x="715" y="554.5">milR-9235-x</text></g>
<g id="n_milR-6134-y"><circle class="l" cx="309" cy="553" r="11.5"/><text x="309" y="559.5">milR-6134-y</text></g>
<g id="n_milR-3049-y"><circle class="l" cx="110" cy="572" r="11.5"/><text x="110" y="578.5">milR-3049-y</text></g>
<g id="n_milR-98-x"><circle class="l" cx="456" cy="577" r="11.5"/><text x="456" y="583.5">milR-98-x</text></g>
<g id="n_milR-210-y"><circle class="l" cx="594" cy="568" r="11.5"/><text x="594" y="574.5">milR-210-y</text></g>
<g id="n_milR-3382-x"><circle class="d" cx="787" cy="580" r="11.5"/><text x="787" y="586.5">milR-3382-x</text></g>
<g id="n_milR-iab-4-y"><circle class="l" cx="1022" cy="567" r="11.5"/><text x="1022" y="573.5">milR-iab-4-y</text></g>
<g id="n_milR-10400-x"><circle class="d" cx="1199" cy="570" r="11.5"/><text x="1199" y="576.5">milR-10400-x</text></g>
<g id="n_milR-4175-y"><circle class="d" cx="1403" cy="597" r="11.5"/><text x="1403" y="603.5">milR-4175-y</text></g>
<g id="n_novel-m0104-5p"><circle class="d" cx="279" cy="593" r="11.5"/><text x="279" y="599.5">novel-m0104-5p</text></g>
<g id="n_novel-m0016-5p"><circle class="d" cx="601" cy="600" r="11.5"/><text x="601" y="606.5">novel-m0016-5p</text></g>
<g id="n_milR-210-z"><circle class="d" cx="778" cy="613" r="11.5"/><text x="778" y="619.5">milR-210-z</text></g>
<g id="n_milR-993-y"><circle class="l" cx="953" cy="615" r="11.5"/><text x="953" y="621.5">milR-993-y</text></g>
<g id="n_novel-m0123-3p"><circle class="d" cx="1083" cy="595" r="11.5"/><text x="1083" y="601.5">novel-m0123-3p</text></g>
<g id="n_milR-8085-x"><circle class="o" cx="137" cy="618" r="11.5"/><text x="137" y="624.5">milR-8085-x</text></g>
<g id="n_milR-1546-x"><circle class="d" cx="437" cy="617" r="11.5"/><text x="437" y="623.5">milR-1546-x</text></g>
<g id="n_milR-196-x"><circle class="d" cx="312" cy="628" r="11.5"/><text x="312" y="634.5">milR-196-x</text></g>
<g id="n_milR-5658-x"><circle class="d" cx="1076" cy="630" r="11.5"/><text x="1076" y="636.5">milR-5658-x</text></g>
<g id="n_novel-m0060-3p"><circle class="d" cx="1260" cy="615" r="11.5"/><text x="1260" y="621.5">novel-m0060-3p</text></g>
<g id="n_milR-396-z"><circle class="d" cx="1392" cy="633" r="11.5"/><text x="1392" y="639.5">milR-396-z</text></g>
<g id="n_milR-236-y"><circle class="l" cx="566" cy="635" r="11.5"/><text x="566" y="641.5">milR-236-y</text></g>
<g id="n_novel-m0065-3p"><circle class="d" cx="122" cy="653" r="11.5"/><text x="122" y="659.5">novel-m0065-3p</text></g>
<g id="n_milR-283-x"><circle class="l" cx="276" cy="665" r="11.5"/><text x="276" y="671.5">milR-283-x</text></g>
<g id="n_milR-7088-x"><circle class="d" cx="443" cy="655" r="11.5"/><text x="443" y="661.5">milR-7088-x</text></g>
<g id="n_milR-1380-y"><circle class="d" cx="835" cy="650" r="11.5"/><text x="835" y="656.5">milR-1380-y</text></g>
<g id="n_milR-1171-x"><circle class="d" cx="986" cy="650" r="11.5"/><text x="986" y="656.5">milR-1171-x</text></g>
<g id="n_milR-6882-x"><circle class="d" cx="1244" cy="653" r="11.5"/><text x="1244" y="659.5">milR-6882-x</text></g>
<g id="n_milR-3334-x"><circle class="d" cx="603" cy="670" r="11.5"/><text x="603" y="676.5">milR-3334-x</text></g>
<g id="n_milR-6237-y"><circle class="l" cx="163" cy="690" r="11.5"/><text x="163" y="696.5">milR-6237-y</text></g>
<g id="n_milR-750-x"><circle class="l" cx="919" cy="680" r="11.5"/><text x="919" y="686.5">milR-750-x</text></g>
<g id="n_milR-4331-y"><circle class="l" cx="1064" cy="688" r="11.5"/><text x="1064" y="694.5">milR-4331-y</text></g>
<g id="n_milR-8250-x"><circle class="y" cx="1228" cy="687" r="11.5"/><text x="1228" y="693.5">milR-8250-x</text></g>
<g id="n_milR-3786-x"><circle class="l" cx="1373" cy="673" r="11.5"/><text x="1373" y="679.5">milR-3786-x</text></g>
<g id="n_milR-11610-y"><circle class="o" cx="779" cy="698" r="11.5"/><text x="779" y="704.5">milR-11610-y</text></g>
<g id="n_milR-277-x"><circle class="l" cx="469" cy="698" r="11.5"/><text x="469" y="704.5">milR-277-x</text></g>
<g id="n_milR-9563-x"><circle class="l" cx="328" cy="713" r="11.5"/><text x="328" y="719.5">milR-9563-x</text></g>
<g id="n_milR-7866-x"><circle class="d" cx="130" cy="725" r="11.5"/><text x="130" y="731.5">milR-7866-x</text></g>
<g id="n_milR-125-x"><circle class="d" cx="683" cy="715" r="11.5"/><text x="683" y="721.5">milR-125-x</text></g>
<g id="n_milR-144-x"><circle class="d" cx="957" cy="718" r="11.5"/><text x="957" y="724.5">milR-144-x</text></g>
<g id="n_novel-m0019-3p"><circle class="d" cx="1137" cy="722" r="11.5"/><text x="1137" y="728.5">novel-m0019-3p</text></g>
<g id="n_novel-m0131-5p"><circle class="d" cx="1305" cy="730" r="11.5"/><text x="1305" y="736.5">novel-m0131-5p</text></g>
<g id="n_milR-4488-x"><circle class="d" cx="1450" cy="707" r="11.5"/><text x="1450" y="713.5">milR-4488-x</text></g>
<g id="n_milR-6149-x"><circle class="d" cx="337" cy="747" r="11.5"/><text x="337" y="753.5">milR-6149-x</text></g>
<g id="n_milR-6240-x"><circle class="l" cx="493" cy="745" r="11.5"/><text x="493" y="751.5">milR-6240-x</text></g>
<g id="n_novel-m0044-5p"><circle class="d" cx="794" cy="740" r="11.5"/><text x="794" y="746.5">novel-m0044-5p</text></g>
<g id="n_novel-m0056-5p"><circle class="d" cx="1071" cy="757" r="11.5"/><text x="1071" y="763.5">novel-m0056-5p</text></g>
<g id="n_milR-29-y"><circle class="d" cx="1443" cy="742" r="11.5"/><text x="1443" y="748.5">milR-29-y</text></g>
<g id="n_milR-1701-x"><circle class="d" cx="163" cy="772" r="11.5"/><text x="163" y="778.5">milR-1701-x</text></g>
<g id="n_milR-319-y"><circle class="d" cx="312" cy="777" r="11.5"/><text x="312" y="783.5">milR-319-y</text></g>
<g id="n_milR-932-x"><circle class="l" cx="461" cy="778" r="11.5"/><text x="461" y="784.5">milR-932-x</text></g>
<g id="n_novel-m0057-3p"><circle class="d" cx="612" cy="767" r="11.5"/><text x="612" y="773.5">novel-m0057-3p</text></g>
<g id="n_milR-25-y"><circle class="d" cx="818" cy="773" r="11.5"/><text x="818" y="779.5">milR-25-y</text></g>
<g id="n_milR-92-x"><circle class="l" cx="925" cy="763" r="11.5"/><text x="925" y="769.5">milR-92-x</text></g>
<g id="n_milR-9226-x"><circle class="l" cx="1134" cy="785" r="11.5"/><text x="1134" y="791.5">milR-9226-x</text></g>
<g id="n_novel-m0132-3p"><circle class="d" cx="1305" cy="777" r="11.5"/><text x="1305" y="783.5">novel-m0132-3p</text></g>
<g id="n_milR-4693-x"><circle class="d" cx="74" cy="797" r="11.5"/><text x="74" y="803.5">milR-4693-x</text></g>
<g id="n_milR-1332-y"><circle class="d" cx="200" cy="812" r="11.5"/><text x="200" y="818.5">milR-1332-y</text></g>
<g id="n_milR-9893-x"><circle class="l" cx="339" cy="807" r="11.5"/><text x="339" y="813.5">milR-9893-x</text></g>
<g id="n_milR-6057-x"><circle class="l" cx="572" cy="803" r="11.5"/><text x="572" y="809.5">milR-6057-x</text></g>
<g id="n_milR-11552-x"><circle class="d" cx="742" cy="802" r="11.5"/><text x="742" y="808.5">milR-11552-x</text></g>
<g id="n_milR-282-y"><circle class="l" cx="969" cy="792" r="11.5"/><text x="969" y="798.5">milR-282-y</text></g>
<g id="n_milR-133-y"><circle class="y" cx="1093" cy="815" r="11.5"/><text x="1093" y="821.5">milR-133-y</text></g>
<g id="n_novel-m0083-3p"><circle class="d" cx="1347" cy="808" r="11.5"/><text x="1347" y="814.5">novel-m0083-3p</text></g>
<g id="n_milR-4704-x"><circle class="d" cx="112" cy="837" r="11.5"/><text x="112" y="843.5">milR-4704-x</text></g>
<g id="n_milR-125-y"><circle class="l" cx="274" cy="843" r="11.5"/><text x="274" y="849.5">milR-125-y</text></g>
<g id="n_novel-m0010-3p"><circle class="d" cx="423" cy="838" r="11.5"/><text x="423" y="844.5">novel-m0010-3p</text></g>
<g id="n_milR-159-y"><circle class="d" cx="577" cy="833" r="11.5"/><text x="577" y="839.5">milR-159-y</text></g>
<g id="n_milR-6067-x"><circle class="l" cx="713" cy="835" r="11.5"/><text x="713" y="841.5">milR-6067-x</text></g>
<g id="n_novel-m0073-5p"><circle class="d" cx="902" cy="823" r="11.5"/><text x="902" y="829.5">novel-m0073-5p</text></g>
<g id="n_milR-29b3-y"><circle class="l" cx="1212" cy="830" r="11.5"/><text x="1212" y="836.5">milR-29b3-y</text></g>
<g id="n_novel-m0097-3p"><circle class="d" cx="1397" cy="835" r="11.5"/><text x="1397" y="841.5">novel-m0097-3p</text></g>
<g id="n_milR-282-x"><circle class="l" cx="164" cy="870" r="11.5"/><text x="164" y="876.5">milR-282-x</text></g>
<g id="n_milR-3720-x"><circle class="l" cx="302" cy="870" r="11.5"/><text x="302" y="876.5">milR-3720-x</text></g>
<g id="n_milR-9232-x"><circle class="d" cx="465" cy="872" r="11.5"/><text x="465" y="878.5">milR-9232-x</text></g>
<g id="n_milR-211-y"><circle class="d" cx="621" cy="863" r="11.5"/><text x="621" y="869.5">milR-211-y</text></g>
<g id="n_milR-4968-y"><circle class="d" cx="824" cy="853" r="11.5"/><text x="824" y="859.5">milR-4968-y</text></g>
<g id="n_novel-m0134-3p"><circle class="d" cx="1011" cy="855" r="11.5"/><text x="1011" y="861.5">novel-m0134-3p</text></g>
<g id="n_milR-5163-y"><circle class="d" cx="1178" cy="868" r="11.5"/><text x="1178" y="874.5">milR-5163-y</text></g>
<g id="n_milR-3786-y"><circle class="l" cx="1332" cy="868" r="11.5"/><text x="1332" y="874.5">milR-3786-y</text></g>
<g id="n_milR-8878-x"><circle class="d" cx="64" cy="892" r="11.5"/><text x="64" y="898.5">milR-8878-x</text></g>
<g id="n_novel-m0005-3p"><circle class="d" cx="216" cy="897" r="11.5"/><text x="216" y="903.5">novel-m0005-3p</text></g>
<g id="n_milR-8686-x"><circle class="d" cx="431" cy="902" r="11.5"/><text x="431" y="908.5">milR-8686-x</text></g>
<g id="n_milR-3968-y"><circle class="l" cx="686" cy="890" r="11.5"/><text x="686" y="896.5">milR-3968-y</text></g>
<g id="n_milR-235-y"><circle class="l" cx="792" cy="890" r="11.5"/><text x="792" y="896.5">milR-235-y</text></g>
<g id="n_milR-6051-y"><circle class="l" cx="923" cy="880" r="11.5"/><text x="923" y="886.5">milR-6051-y</text></g>
<g id="n_milR-17-x"><circle class="d" cx="1407" cy="895" r="11.5"/><text x="1407" y="901.5">milR-17-x</text></g>
<g id="n_milR-22-y"><circle class="d" cx="574" cy="908" r="11.5"/><text x="574" y="914.5">milR-22-y</text></g>
<g id="n_novel-m0084-3p"><circle class="d" cx="291" cy="927" r="11.5"/><text x="291" y="933.5">novel-m0084-3p</text></g>
<g id="n_milR-1777-x"><circle class="o" cx="696" cy="925" r="11.5"/><text x="696" y="931.5">milR-1777-x</text></g>
<g id="n_milR-2788-y"><circle class="l" cx="848" cy="923" r="11.5"/><text x="848" y="929.5">milR-2788-y</text></g>
<g id="n_novel-m0005-5p"><circle class="d" cx="1007" cy="928" r="11.5"/><text x="1007" y="934.5">novel-m0005-5p</text></g>
<g id="n_novel-m0110-3p"><circle class="d" cx="1257" cy="910" r="11.5"/><text x="1257" y="916.5">novel-m0110-3p</text></g>
<g id="n_milR-3239-y"><circle class="o" cx="1402" cy="935" r="11.5"/><text x="1402" y="941.5">milR-3239-y</text></g>
<g id="n_novel-m0092-3p"><circle class="d" cx="109" cy="937" r="11.5"/><text x="109" y="943.5">novel-m0092-3p</text></g>
<g id="n_milR-6059-y"><circle class="y" cx="302" cy="962" r="11.5"/><text x="302" y="968.5">milR-6059-y</text></g>
<g id="n_novel-m0033-5p"><circle class="d" cx="612" cy="960" r="11.5"/><text x="612" y="966.5">novel-m0033-5p</text></g>
<g id="n_milR-8577-x"><circle class="d" cx="770" cy="955" r="11.5"/><text x="770" y="961.5">milR-8577-x</text></g>
<g id="n_milR-2013-y"><circle class="d" cx="918" cy="958" r="11.5"/><text x="918" y="964.5">milR-2013-y</text></g>
<g id="n_milR-6756-x"><circle class="d" cx="1166" cy="945" r="11.5"/><text x="1166" y="951.5">milR-6756-x</text></g>
<g id="n_novel-m0070-3p"><circle class="d" cx="162" cy="975" r="11.5"/><text x="162" y="981.5">novel-m0070-3p</text></g>
<g id="n_novel-m0049-5p"><circle class="d" cx="1042" cy="973" r="11.5"/><text x="1042" y="979.5">novel-m0049-5p</text></g>
<g id="n_milR-8967-y"><circle class="d" cx="1237" cy="973" r="11.5"/><text x="1237" y="979.5">milR-8967-y</text></g>
<g id="n_milR-5119-y"><circle class="d" cx="1350" cy="967" r="11.5"/><text x="1350" y="973.5">milR-5119-y</text></g>
<g id="n_milR-9255-y"><circle class="d" cx="64" cy="1002" r="11.5"/><text x="64" y="1008.5">milR-9255-y</text></g>
<g id="n_novel-m0104-3p"><circle class="d" cx="340" cy="993" r="11.5"/><text x="340" y="999.5">novel-m0104-3p</text></g>
<g id="n_milR-1151-x"><circle class="d" cx="503" cy="985" r="11.5"/><text x="503" y="991.5">milR-1151-x</text></g>
<g id="n_milR-2887-x"><circle class="d" cx="625" cy="998" r="11.5"/><text x="625" y="1004.5">milR-2887-x</text></g>
<g id="n_novel-m0048-3p"><circle class="d" cx="773" cy="993" r="11.5"/><text x="773" y="999.5">novel-m0048-3p</text></g>
<g id="n_milR-133-z"><circle class="l" cx="945" cy="1002" r="11.5"/><text x="945" y="1008.5">milR-133-z</text></g>
<g id="n_novel-m0078-5p"><circle class="d" cx="1206" cy="1003" r="11.5"/><text x="1206" y="1009.5">novel-m0078-5p</text></g>
<g id="n_milR-7573-x"><circle class="y" cx="1401" cy="1005" r="11.5"/><text x="1401" y="1011.5">milR-7573-x</text></g>
<g id="n_milR-9161-y"><circle class="y" cx="202" cy="1018" r="11.5"/><text x="202" y="1024.5">milR-9161-y</text></g>
<g id="n_milR-482-x"><circle class="d" cx="470" cy="1018" r="11.5"/><text x="470" y="1024.5">milR-482-x</text></g>
<g id="n_novel-m0119-5p"><circle class="d" cx="791" cy="1022" r="11.5"/><text x="791" y="1028.5">novel-m0119-5p</text></g>
<g id="n_milR-8175-y"><circle class="l" cx="997" cy="1032" r="11.5"/><text x="997" y="1038.5">milR-8175-y</text></g>
<g id="n_milR-281-x"><circle class="l" cx="1094" cy="1018" r="11.5"/><text x="1094" y="1024.5">milR-281-x</text></g>
<g id="n_milR-9226-y"><circle class="l" cx="1248" cy="1038" r="11.5"/><text x="1248" y="1044.5">milR-9226-y</text></g>
<g id="n_milR-980-y"><circle class="l" cx="114" cy="1045" r="11.5"/><text x="114" y="1051.5">milR-980-y</text></g>
<g id="n_milR-10099-x"><circle class="l" cx="339" cy="1037" r="11.5"/><text x="339" y="1043.5">milR-10099-x</text></g>
<g id="n_milR-6041-y"><circle class="l" cx="551" cy="1050" r="11.5"/><text x="551" y="1056.5">milR-6041-y</text></g>
<g id="n_milR-1175-x"><circle class="l" cx="702" cy="1050" r="11.5"/><text x="702" y="1056.5">milR-1175-x</text></g>
<g id="n_milR-638-x"><circle class="d" cx="839" cy="1052" r="11.5"/><text x="839" y="1058.5">milR-638-x</text></g>
<g id="n_milR-2770-y"><circle class="l" cx="985" cy="1062" r="11.5"/><text x="985" y="1068.5">milR-2770-y</text></g>
<g id="n_milR-148-y"><circle class="d" cx="1138" cy="1055" r="11.5"/><text x="1138" y="1061.5">milR-148-y</text></g>
<g id="n_milR-6050-x"><circle class="l" cx="1387" cy="1058" r="11.5"/><text x="1387" y="1064.5">milR-6050-x</text></g>
<g id="n_novel-m0109-3p"><circle class="d" cx="243" cy="1068" r="11.5"/><text x="243" y="1074.5">novel-m0109-3p</text></g>
<g id="n_milR-9993-y"><circle class="d" cx="414" cy="1062" r="11.5"/><text x="414" y="1068.5">milR-9993-y</text></g>
<g id="n_milR-228-x"><circle class="y" cx="563" cy="1077" r="11.5"/><text x="563" y="1083.5">milR-228-x</text></g>
<g id="n_milR-2738-y"><circle class="y" cx="695" cy="1088" r="11.5"/><text x="695" y="1094.5">milR-2738-y</text></g>
<g id="n_novel-m0112-3p"><circle class="d" cx="877" cy="1087" r="11.5"/><text x="877" y="1093.5">novel-m0112-3p</text></g>
<g id="n_novel-m0040-3p"><circle class="d" cx="1227" cy="1083" r="11.5"/><text x="1227" y="1089.5">novel-m0040-3p</text></g>
<g id="n_milR-216-x"><circle class="l" cx="91" cy="1093" r="11.5"/><text x="91" y="1099.5">milR-216-x</text></g>
<g id="n_let-7-x"><circle class="d" cx="194" cy="1092" r="11.5"/><text x="194" y="1098.5">let-7-x</text></g>
<g id="n_milR-3793-x"><circle class="l" cx="316" cy="1090" r="11.5"/><text x="316" y="1096.5">milR-3793-x</text></g>
<g id="n_milR-315-y"><circle class="o" cx="471" cy="1103" r="11.5"/><text x="471" y="1109.5">milR-315-y</text></g>
<g id="n_novel-m0071-3p"><circle class="d" cx="636" cy="1115" r="11.5"/><text x="636" y="1121.5">novel-m0071-3p</text></g>
<g id="n_milR-9878-y"><circle class="l" cx="1059" cy="1095" r="11.5"/><text x="1059" y="1101.5">milR-9878-y</text></g>
<g id="n_milR-482-y"><circle class="d" cx="374" cy="1120" r="11.5"/><text x="374" y="1126.5">milR-482-y</text></g>
<g id="n_novel-m0091-5p"><circle class="d" cx="220" cy="1130" r="11.5"/><text x="220" y="1136.5">novel-m0091-5p</text></g>
<g id="n_milR-3747-x"><circle class="l" cx="500" cy="1137" r="11.5"/><text x="500" y="1143.5">milR-3747-x</text></g>
<g id="n_novel-m0126-5p"><circle class="d" cx="664" cy="1143" r="11.5"/><text x="664" y="1149.5">novel-m0126-5p</text></g>
<g id="n_novel-m0011-5p"><circle class="d" cx="887" cy="1117" r="11.5"/><text x="887" y="1123.5">novel-m0011-5p</text></g>
<g id="n_milR-21-x"><circle class="d" cx="1378" cy="1115" r="11.5"/><text x="1378" y="1121.5">milR-21-x</text></g>
<g id="n_milR-92-y"><circle class="l" cx="1154" cy="1133" r="11.5"/><text x="1154" y="1139.5">milR-92-y</text></g>
<g id="n_milR-4502-y"><circle class="d" cx="1285" cy="1142" r="11.5"/><text x="1285" y="1148.5">milR-4502-y</text></g>
<g id="n_novel-m0108-5p"><circle class="d" cx="297" cy="1155" r="11.5"/><text x="297" y="1161.5">novel-m0108-5p</text></g>
<g id="n_milR-9995-y"><circle class="l" cx="462" cy="1167" r="11.5"/><text x="462" y="1173.5">milR-9995-y</text></g>
<g id="n_milR-10592-x"><circle class="l" cx="842" cy="1155" r="11.5"/><text x="842" y="1161.5">milR-10592-x</text></g>
<g id="n_milR-6-x"><circle class="o" cx="1006" cy="1162" r="11.5"/><text x="1006" y="1168.5">milR-6-x</text></g>
<g id="n_milR-34-y"><circle class="l" cx="1180" cy="1182" r="11.5"/><text x="1180" y="1188.5">milR-34-y</text></g>
</g>
<g id="targets">
<g id="t_SOD4"><polygon class="t" points="374,258 394,278 374,298 354,278"/><text x="374" y="284.5">SOD4</text></g>
<g id="t_SOD6"><polygon class="t" points="666,210 678,222 666,234 654,222"/><text x="666" y="228.5">SOD6</text></g>
<g id="t_DMAP1"><polygon class="t" points="1255,407 1275,427 1255,447 1235,427"/><text x="1255" y="433.5">DMAP1</text></g>
<g id="t_CHI3"><polygon class="t" points="907,564 923,580 907,596 891,580"/><text x="907" y="586.5">CHI3</text></g>
<g id="t_PREP2"><polygon class="t" points="708,638 732,662 708,686 684,662"/><text x="708" y="668.5">PREP2</text></g>
<g id="t_SOD5"><polygon class="t" points="572,705 586,719 572,733 558,719"/><text x="572" y="725.5">SOD5</text></g>
<g id="t_SODA"><polygon class="t" points="506,918 520,935 506,952 492,935"/><text x="506" y="941.5">SODA</text></g>
<g id="t_SOD2"><polygon class="t" points="414,940 436,962 414,984 392,962"/><text x="414" y="968.5">SOD2</text></g>
<g id="t_ADM-B"><polygon class="t" points="1098,880 1120,902 1098,924 1076,902"/><text x="1098" y="908.5">ADM-B</text></g>
</g>
</svg>
